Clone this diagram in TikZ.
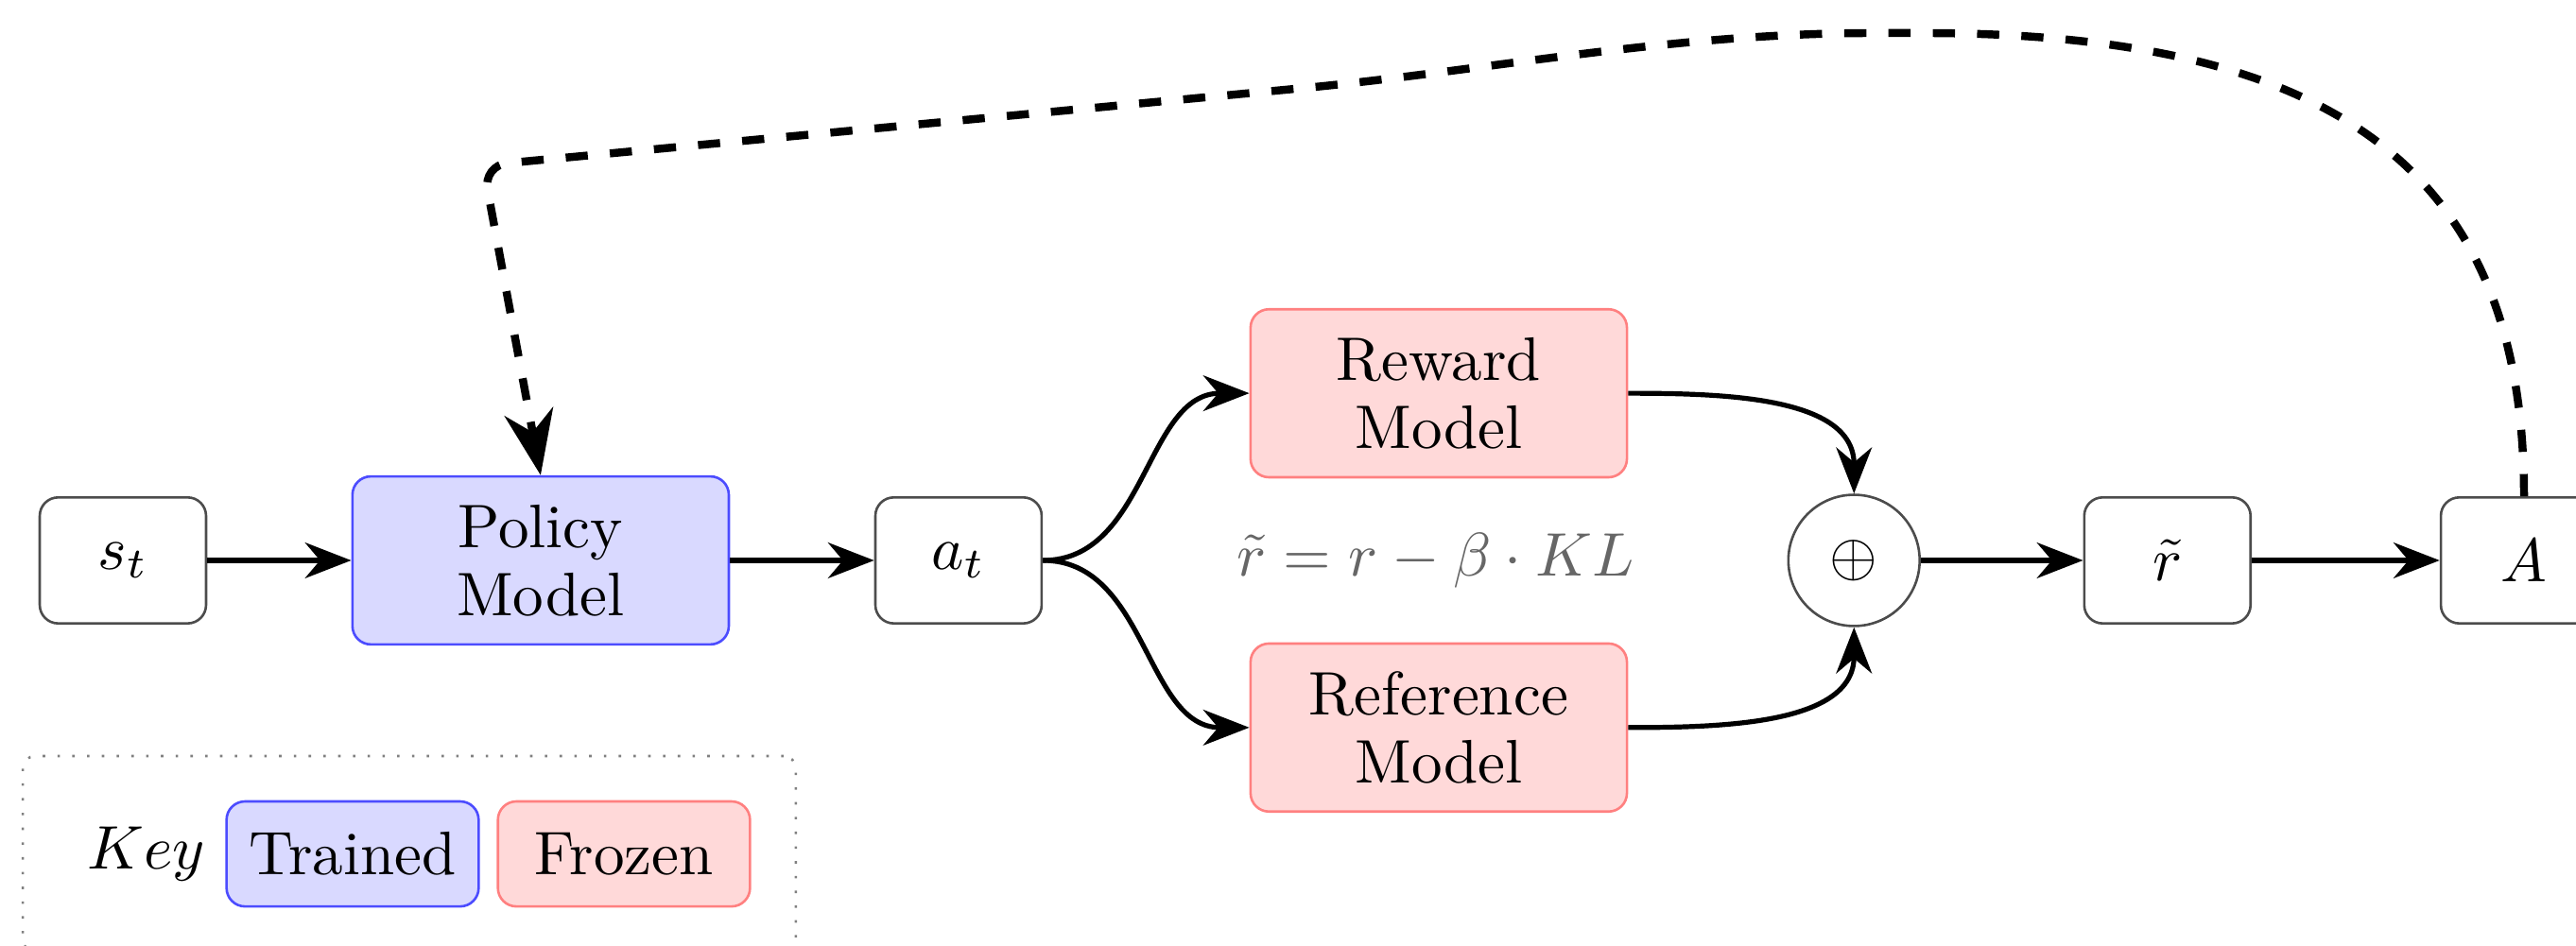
\documentclass[tikz,border=0pt]{standalone}
\usetikzlibrary{arrows.meta,positioning}

\tikzset{
  smallbox/.style={draw=black!70, fill=white, rounded corners=3pt,
    minimum width=0.95cm, minimum height=0.72cm},
  trained/.style={draw=blue!70, fill=blue!15, rounded corners=3pt, align=center,
    font=\fontsize{10}{11}\selectfont, minimum width=2.15cm, minimum height=0.96cm},
  frozen/.style={draw=red!50, fill=red!15, rounded corners=3pt, align=center,
    font=\fontsize{10}{11}\selectfont, minimum width=2.15cm, minimum height=0.96cm},
  keyitem/.style={minimum width=1.44cm, minimum height=0.6cm},
  sumnode/.style={circle, draw=black!70, minimum size=0.75cm, inner sep=0pt},
  formula/.style={text=black!60},
  flow/.style={thick, -{Stealth[length=7.5pt,width=5.8pt]}},
  feedback/.style={line width=1.3pt, dash pattern=on 3.6pt off 3.6pt,
    rounded corners=4pt, -{Stealth[length=10.5pt,width=8pt]}},
}

\begin{document}
\begin{tikzpicture}[x=1cm, y=1cm]
    \useasboundingbox (0,-2.203) rectangle (14.714,3.202);

    % riga principale
    \node[smallbox] (st) at (0.702,0) {$s_t$};
    \node[trained] (policy) at (3.088,0) {Policy\\Model};
    \node[smallbox] (at) at (5.475,0) {$a_t$};
    \node[frozen] (reward) at (8.218,0.955) {Reward\\Model};
    \node[frozen] (refm) at (8.218,-0.955) {Reference\\Model};
    \node[formula] (kl) at (8.2,0) {$\tilde{r} = r - \beta \cdot KL$};
    \node[sumnode] (sum) at (10.59,0) {$\oplus$};
    \node[smallbox] (rt) at (12.38,0) {$\tilde{r}$};
    \node[smallbox] (adv) at (14.417,0) {$A$};

    \draw[flow] (st) -- (policy);
    \draw[flow] (policy) -- (at);
    \draw[flow] (at.east) to[out=0, in=180] (reward.west);
    \draw[flow] (at.east) to[out=0, in=180] (refm.west);
    \draw[flow] (reward.east) to[out=0, in=90] (sum.north);
    \draw[flow] (refm.east) to[out=0, in=-90] (sum.south);
    \draw[flow] (sum) -- (rt);
    \draw[flow] (rt) -- (adv);

    % ritorno tratteggiato
    \coordinate (peak) at (10.842,3.013);
    \coordinate (bend) at (7.289,2.684);
    \coordinate (corner) at (2.759,2.257);
    \draw[feedback] (adv.north) .. controls +(0,1.86) and +(2.5,0) .. (peak)
        .. controls +(-1.3,0) and +(1.2,0.1135) .. (bend) -- (corner) -- (policy.north);

    % legenda
    \node[draw=black!50, dotted, rounded corners=2pt, minimum width=4.416cm,
        minimum height=1.118cm] (keyframe) at (2.338,-1.677) {};
    \node (keylabel) at (0.837,-1.677) {$Key$};
    \node[trained, keyitem] (keytrained) at (2.014,-1.677) {Trained};
    \node[frozen, keyitem] (keyfrozen) at (3.564,-1.677) {Frozen};
\end{tikzpicture}
\end{document}
